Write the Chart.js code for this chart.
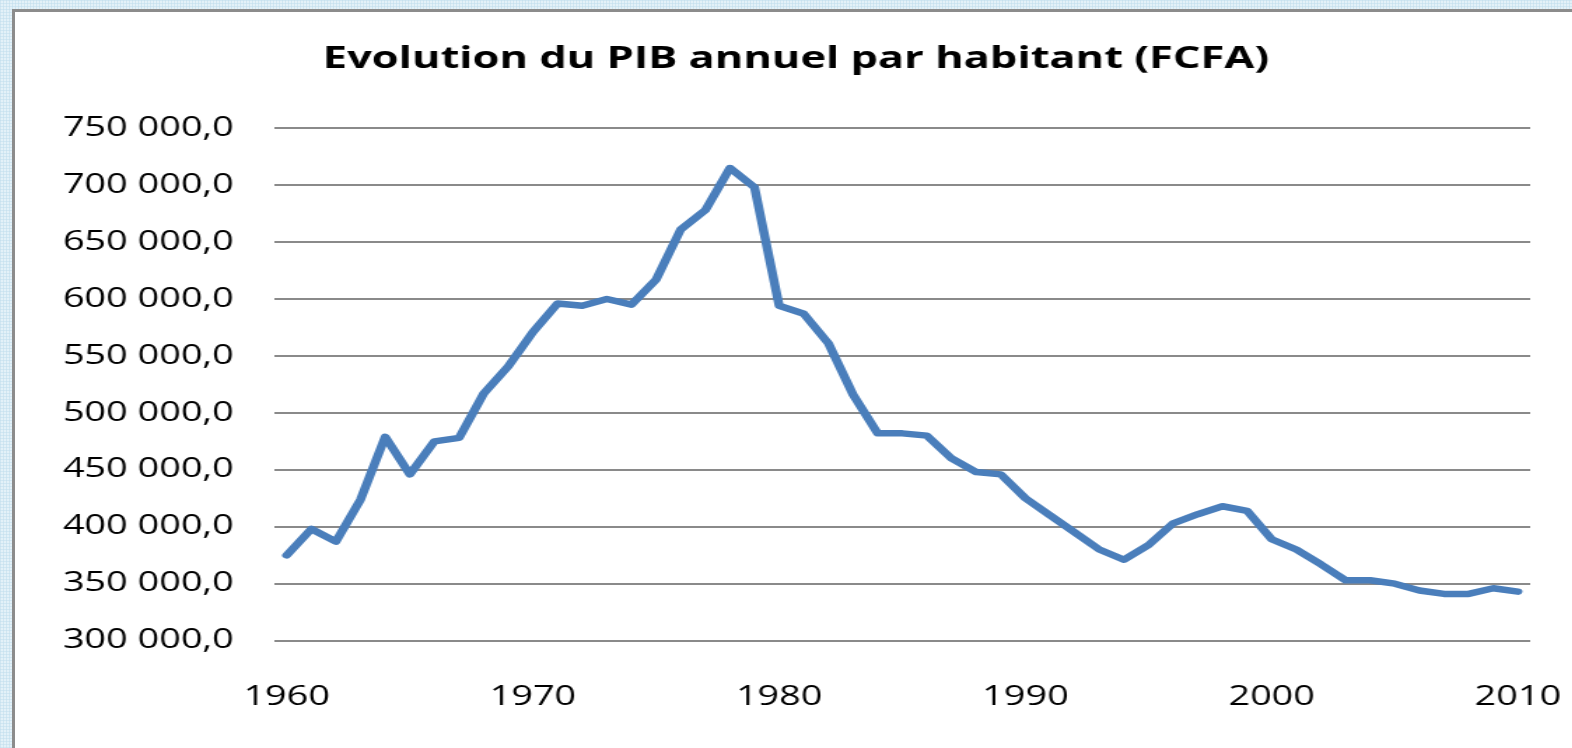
<!DOCTYPE html>
<html>
<head>
<meta charset="utf-8">
<script src="https://cdn.jsdelivr.net/npm/chart.js@4"></script>
<style>
  html, body { margin: 0; padding: 0; }
  body {
    width: 1572px;
    height: 748px;
    overflow: hidden;
    position: relative;
    background-color: #e3f1f8;
    background-image:
      repeating-linear-gradient(0deg, rgba(190, 220, 236, 0.5) 0 1px, transparent 1px 3px),
      repeating-linear-gradient(90deg, rgba(190, 220, 236, 0.5) 0 1px, transparent 1px 3px);
  }
  #frame {
    position: absolute;
    left: 12px;
    top: 9px;
    width: 1600px;
    height: 800px;
    background: #fff;
    border: 3px solid #8c8c8c;
  }
  #wrap {
    position: absolute;
    left: 0;
    top: 0;
    transform: scaleX(1.4);
    transform-origin: 0 0;
  }
</style>
</head>
<body>
<div id="frame"></div>
<div id="wrap">
  <canvas id="pibChart" width="1123" height="748" style="width:1123px;height:748px"></canvas>
</div>
<script>
// ===================== Data ===================

const chartTitle = 'Evolution du PIB annuel par habitant (FCFA)';

const years = [
  '1960', '1961', '1962', '1963', '1964', '1965', '1966', '1967', '1968', '1969',
  '1970', '1971', '1972', '1973', '1974', '1975', '1976', '1977', '1978', '1979',
  '1980', '1981', '1982', '1983', '1984', '1985', '1986', '1987', '1988', '1989',
  '1990', '1991', '1992', '1993', '1994', '1995', '1996', '1997', '1998', '1999',
  '2000', '2001', '2002', '2003', '2004', '2005', '2006', '2007', '2008', '2009',
  '2010'
];

const pibPerCapita = [
  375000, 398000, 387000, 424000, 479000, 446000, 475000, 478000, 517000, 541000,
  571000, 596000, 594000, 600000, 595000, 617000, 661000, 678000, 715000, 698000,
  594000, 587000, 561000, 516000, 482000, 482000, 480000, 460000, 448000, 446000,
  425000, 410000, 395000, 380000, 371000, 384000, 403000, 411000, 418000, 414000,
  389000, 380000, 367000, 353000, 353000, 350000, 344000, 341000, 341000, 346000,
  343000
];

const xTickLabels = ['1960', '1970', '1980', '1990', '2000', '2010'];

const yMin = 300000;
const yMax = 750000;
const yStep = 50000;

// ===================== Helpers ===================

// 750000 -> "750 000,0"
function formatFCFA(value) {
  const parts = value.toFixed(1).split('.');
  const intPart = parts[0].replace(/\B(?=(\d{3})+(?!\d))/g, ' ');
  return intPart + ',' + parts[1];
}

const tickFont = { family: 'Open Sans', size: 27 };

// ===================== Chart ===================

function drawChart() {
  const ctx = document.getElementById('pibChart');

  new Chart(ctx, {
    type: 'line',
    data: {
      labels: years,
      datasets: [{
        label: 'PIB par habitant',
        data: pibPerCapita,
        borderColor: '#4a7ebb',
        borderWidth: 6.5,
        borderJoinStyle: 'round',
        borderCapStyle: 'round',
        pointRadius: 0,
        tension: 0,
        fill: false
      }]
    },
    options: {
      responsive: false,
      animation: false,
      layout: {
        // left padding only moves the title box; the y axis width makes up for it
        padding: { left: 44, right: 30, top: 0, bottom: 34 }
      },
      plugins: {
        legend: { display: false },
        tooltip: { enabled: false },
        title: {
          display: true,
          text: chartTitle,
          color: '#000',
          font: { family: 'Open Sans', size: 31, weight: 'bold' },
          padding: { top: 41, bottom: 50 }
        }
      },
      scales: {
        x: {
          type: 'category',
          offset: true,
          grid: {
            display: true,
            drawOnChartArea: false,
            drawTicks: true,
            tickLength: 41,
            tickColor: 'rgba(0,0,0,0)',
            color: 'rgba(0,0,0,0)'
          },
          border: { display: false },
          ticks: {
            autoSkip: false,
            maxRotation: 0,
            padding: 0,
            color: '#000',
            font: tickFont,
            callback: function (value) {
              const label = this.getLabelForValue(value);
              return xTickLabels.includes(label) ? label : '';
            }
          }
        },
        y: {
          min: yMin,
          max: yMax,
          grid: {
            color: '#8a8a8a',
            lineWidth: 2,
            drawTicks: false
          },
          border: { display: false },
          ticks: {
            stepSize: yStep,
            padding: 29,
            color: '#000',
            font: tickFont,
            callback: function (value) {
              return formatFCFA(value);
            }
          },
          afterFit: function (axis) {
            axis.width = 152;
          }
        }
      }
    }
  });
}

document.addEventListener('DOMContentLoaded', () => {
  drawChart();
});
</script>
</body>
</html>
